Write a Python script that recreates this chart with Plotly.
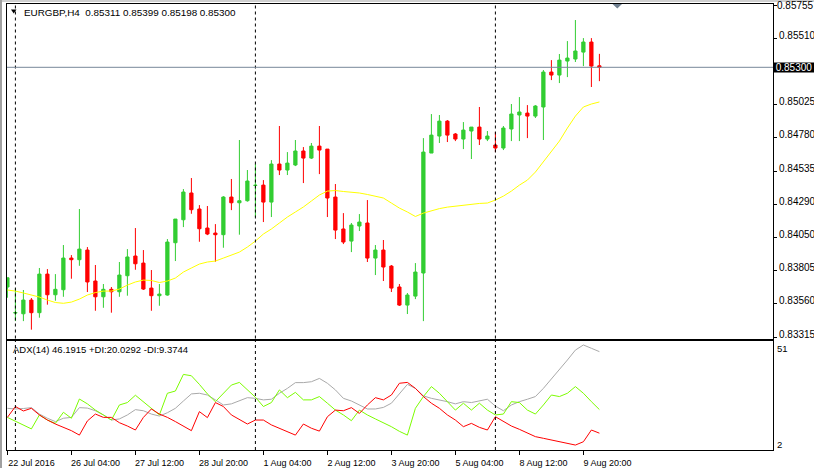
import plotly.graph_objects as go

# ---------------- data (EURGBP H4) ----------------
open_ = [0.83683, 0.83491, 0.83486, 0.83587, 0.83494, 0.83778, 0.83626, 0.83663, 0.83896, 0.83884,
         0.83955, 0.83727, 0.83611, 0.83666, 0.83648, 0.83766, 0.83911, 0.83859, 0.83675, 0.83619,
         0.83624, 0.84009, 0.84178, 0.84375, 0.84257, 0.84117, 0.84080, 0.84068, 0.84345, 0.84303,
         0.84318, 0.84430, 0.84433, 0.84308, 0.84588, 0.84544, 0.84581, 0.84684, 0.84632, 0.84720,
         0.84698, 0.84345, 0.84110, 0.84021, 0.84132, 0.84154, 0.83896, 0.83955, 0.83837, 0.83683,
         0.83550, 0.83616, 0.83786, 0.84669, 0.84794, 0.84904, 0.84809, 0.84772, 0.84831, 0.84860,
         0.84772, 0.84728, 0.84706, 0.84846, 0.84949, 0.84963, 0.84941, 0.85008, 0.85265, 0.85243,
         0.85346, 0.85361, 0.85412, 0.85486, 0.85311]
high = [0.83751, 0.83673, 0.83661, 0.83602, 0.83823, 0.83815, 0.83778, 0.83992, 0.83918, 0.84257,
        0.83977, 0.83845, 0.83705, 0.83683, 0.83867, 0.83962, 0.84117, 0.83955, 0.83808, 0.83705,
        0.84036, 0.84183, 0.84404, 0.84485, 0.84286, 0.84279, 0.84146, 0.84352, 0.84478, 0.84765,
        0.84544, 0.84588, 0.84470, 0.84617, 0.84868, 0.84676, 0.84765, 0.84713, 0.84743, 0.84868,
        0.84698, 0.84441, 0.84227, 0.84154, 0.84220, 0.84323, 0.83992, 0.84029, 0.83845, 0.83705,
        0.83639, 0.83859, 0.84779, 0.84956, 0.84949, 0.84912, 0.84816, 0.84897, 0.84860, 0.85008,
        0.84831, 0.84824, 0.84868, 0.85030, 0.85081, 0.85022, 0.85022, 0.85280, 0.85353, 0.85398,
        0.85493, 0.85648, 0.85515, 0.85515, 0.85399]
low = [0.83604, 0.83432, 0.83432, 0.83369, 0.83457, 0.83553, 0.83582, 0.83611, 0.83744, 0.83839,
       0.83646, 0.83508, 0.83530, 0.83494, 0.83611, 0.83619, 0.83810, 0.83661, 0.83508, 0.83545,
       0.83619, 0.83874, 0.84124, 0.84222, 0.84016, 0.84065, 0.83869, 0.83972, 0.84249, 0.84068,
       0.84311, 0.84200, 0.84161, 0.84198, 0.84507, 0.84507, 0.84573, 0.84448, 0.84625, 0.84514,
       0.84198, 0.84036, 0.83999, 0.83940, 0.84095, 0.83867, 0.83771, 0.83727, 0.83646, 0.83543,
       0.83484, 0.83594, 0.83432, 0.84669, 0.84743, 0.84750, 0.84757, 0.84698, 0.84625, 0.84728,
       0.84757, 0.84676, 0.84691, 0.84757, 0.84757, 0.84779, 0.84927, 0.84765, 0.85206, 0.85184,
       0.85228, 0.85339, 0.85309, 0.85155, 0.85198]
close = [0.83751, 0.83495, 0.83587, 0.83494, 0.83778, 0.83626, 0.83666, 0.83896, 0.83884, 0.83962,
         0.83720, 0.83611, 0.83666, 0.83648, 0.83771, 0.83904, 0.83854, 0.83668, 0.83619, 0.83631,
         0.84014, 0.84183, 0.84382, 0.84252, 0.84112, 0.84073, 0.84068, 0.84345, 0.84303, 0.84318,
         0.84463, 0.84432, 0.84308, 0.84588, 0.84544, 0.84595, 0.84684, 0.84632, 0.84720, 0.84691,
         0.84338, 0.84102, 0.84014, 0.84139, 0.84161, 0.83896, 0.83955, 0.83830, 0.83675, 0.83550,
         0.83624, 0.83793, 0.84676, 0.84801, 0.84904, 0.84801, 0.84772, 0.84838, 0.84860, 0.84772,
         0.84794, 0.84706, 0.84853, 0.84956, 0.84971, 0.84941, 0.85015, 0.85265, 0.85243, 0.85353,
         0.85368, 0.85420, 0.85486, 0.85309, 0.85300]
ma = [0.83661, 0.83653, 0.83639, 0.83624, 0.83609, 0.83587, 0.83569, 0.83563, 0.83572, 0.83594,
      0.83624, 0.83642, 0.83653, 0.83653, 0.83668, 0.83697, 0.83720, 0.83734, 0.83731, 0.83716,
      0.83727, 0.83749, 0.83793, 0.83823, 0.83852, 0.83867, 0.83874, 0.83896, 0.83918, 0.83940,
      0.83977, 0.84021, 0.84073, 0.84110, 0.84154, 0.84198, 0.84235, 0.84272, 0.84316, 0.84360,
      0.84389, 0.84393, 0.84386, 0.84382, 0.84375, 0.84364, 0.84352, 0.84338, 0.84301, 0.84264,
      0.84235, 0.84202, 0.84227, 0.84246, 0.84260, 0.84271, 0.84279, 0.84286, 0.84294, 0.84298,
      0.84301, 0.84323, 0.84352, 0.84389, 0.84433, 0.84470, 0.84529, 0.84603, 0.84676, 0.84757,
      0.84853, 0.84941, 0.85008, 0.85030, 0.85045]
adx = [20.6, 20.3, 20.5, 20.9, 18.0, 16.1, 14.6, 16.1, 16.5, 20.9,
       20.7, 19.5, 17.6, 15.3, 15.8, 17.6, 20.0, 19.5, 18.0, 17.1,
       18.6, 20.6, 23.9, 27.1, 27.4, 26.6, 24.4, 22.1, 22.6, 23.9,
       25.4, 25.1, 24.4, 24.7, 27.4, 29.6, 32.2, 32.2, 32.6, 34.1,
       31.9, 28.9, 25.1, 23.9, 22.1, 20.3, 20.3, 21.0, 22.9, 27.4,
       31.4, 29.6, 26.2, 25.1, 24.4, 23.6, 22.6, 23.6, 23.2, 24.1,
       24.7, 21.6, 19.5, 22.1, 23.6, 24.7, 25.9, 29.6, 33.7, 37.9,
       42.4, 46.9, 49.2, 47.7, 46.1915]
plus_di = [16.5, 14.7, 13.1, 11.3, 17.6, 15.3, 13.8, 18.8, 16.1, 24.8,
           22.6, 19.8, 17.6, 15.3, 22.1, 23.2, 26.5, 23.6, 20.6, 17.6,
           27.4, 28.4, 35.9, 35.3, 31.4, 27.1, 23.6, 27.4, 31.1, 32.3,
           28.9, 25.6, 21.4, 23.2, 28.9, 25.4, 27.8, 24.4, 24.4, 25.9,
           22.9, 19.8, 17.6, 15.0, 19.8, 17.6, 15.8, 14.1, 12.3, 10.2,
           8.5, 20.6, 25.9, 30.4, 27.4, 23.6, 19.8, 22.9, 19.8, 22.9,
           19.8, 17.6, 18.0, 23.6, 23.2, 19.8, 18.0, 22.1, 26.6, 25.9,
           27.4, 30.4, 27.4, 23.6, 20.0292]
minus_di = [16.5, 21.4, 19.4, 20.6, 17.6, 15.3, 13.5, 12.0, 10.5, 8.5,
            14.9, 18.0, 16.5, 16.5, 14.1, 12.6, 10.8, 16.5, 20.3, 18.0,
            16.5, 14.6, 12.6, 10.5, 19.1, 16.4, 23.2, 21.4, 17.6, 15.6,
            13.5, 15.3, 15.3, 13.1, 11.6, 10.1, 8.5, 13.5, 11.6, 10.3,
            16.8, 19.8, 19.5, 20.9, 18.3, 22.1, 25.4, 24.4, 26.6, 31.9,
            32.3, 29.6, 25.9, 22.9, 20.6, 17.6, 15.3, 12.3, 13.8, 12.0,
            10.8, 16.8, 14.6, 12.6, 11.1, 9.3, 7.8, 7.05, 6.3, 5.5,
            4.8, 4.0, 5.5, 10.8, 9.3744]

time_idx = [0, 8, 16, 24, 32, 40, 48, 56, 64, 72]
time_lbl = ["22 Jul 2016", "26 Jul 04:00", "27 Jul 12:00", "28 Jul 20:00", "1 Aug 04:00",
            "2 Aug 12:00", "3 Aug 20:00", "5 Aug 04:00", "8 Aug 12:00", "9 Aug 20:00"]
price_ticks = [0.85755, 0.85510, 0.85270, 0.85025, 0.84780, 0.84535, 0.84290,
               0.84050, 0.83805, 0.83560, 0.83315]
top_tick = price_ticks[0]          # drawn as a label pinned to the top edge (as in MT4)
hidden_tick = price_ticks[2]       # hidden behind the bid-price box
price_tick_text = ["" if v in (top_tick, hidden_tick) else "%.5f" % v for v in price_ticks]
week_starts = [1, 31, 61]
symbol_title = "EURGBP,H4"
adx_title = "ADX(14) 46.1915 +DI:20.0292 -DI:9.3744"
adx_scale = [51, 2]

# ---------------- layout helpers ----------------
FONT = "Liberation Sans, Arial, sans-serif"
W, H = 814, 468
L, R, T, B = 7, 41, 4, 18
PW, PH = W - L - R, H - T - B


def fx(p):
    return (p - L) / PW


def fy(p):
    return (H - B - p) / PH


x = list(range(len(close)))
last_price = close[-1]
xr = [-0.05, 95.7]

fig = go.Figure()
fig.add_trace(go.Candlestick(
    x=x, open=open_, high=high, low=low, close=close,
    increasing=dict(line=dict(color="#32CD32", width=1), fillcolor="#32CD32"),
    decreasing=dict(line=dict(color="#FF0000", width=1), fillcolor="#FF0000"),
    whiskerwidth=0, hoverinfo="skip", xaxis="x", yaxis="y", showlegend=False))
fig.add_trace(go.Scatter(x=x, y=ma, mode="lines", line=dict(color="#FFFF00", width=1),
                         xaxis="x", yaxis="y", hoverinfo="skip"))
fig.add_trace(go.Scatter(x=x, y=adx, mode="lines", line=dict(color="#A9A9A9", width=1),
                         xaxis="x2", yaxis="y2", hoverinfo="skip"))
fig.add_trace(go.Scatter(x=x, y=plus_di, mode="lines", line=dict(color="#7CFC00", width=1),
                         xaxis="x2", yaxis="y2", hoverinfo="skip"))
fig.add_trace(go.Scatter(x=x, y=minus_di, mode="lines", line=dict(color="#FF0000", width=1),
                         xaxis="x2", yaxis="y2", hoverinfo="skip"))

axis_common = dict(showgrid=False, zeroline=False, showline=True, mirror=True,
                   linecolor="black", linewidth=1, fixedrange=True, automargin=False)

shapes = []
for w in week_starts:
    shapes.append(dict(type="line", xref="x", yref="y domain", x0=w, x1=w, y0=0, y1=1,
                       line=dict(color="black", width=1, dash="3px,3px")))
    shapes.append(dict(type="line", xref="x2", yref="y2 domain", x0=w, x1=w, y0=0, y1=1,
                       line=dict(color="black", width=1, dash="3px,3px")))
shapes.append(dict(type="line", xref="x domain", yref="y", x0=0, x1=1,
                   y0=last_price, y1=last_price, line=dict(color="#778899", width=1)))
# chart-shift marker
shapes.append(dict(type="path", xref="paper", yref="paper",
                   path="M %f %f L %f %f L %f %f Z" % (fx(612.5), fy(4), fx(622), fy(4), fx(617.3), fy(8.5)),
                   fillcolor="#708090", line=dict(width=0)))
# small header triangle
shapes.append(dict(type="path", xref="paper", yref="paper",
                   path="M %f %f L %f %f L %f %f Z" % (fx(11), fy(9.5), fx(16.5), fy(9.5), fx(13.7), fy(13.5)),
                   fillcolor="black", line=dict(width=0)))
# window edges
shapes.append(dict(type="line", xref="paper", yref="paper", x0=fx(1), x1=fx(1), y0=fy(H), y1=fy(0),
                   line=dict(color="#A0A0A0", width=2)))
shapes.append(dict(type="line", xref="paper", yref="paper", x0=fx(0), x1=fx(W), y0=fy(1), y1=fy(1),
                   line=dict(color="#A0A0A0", width=1)))

annotations = [
    dict(xref="paper", yref="paper", x=fx(21.5), y=fy(12), xanchor="left", yanchor="middle",
         text=symbol_title + "\u00a0\u00a0" + " ".join("%.5f" % v for v in
                                                  [open_[-1], high[-1], low[-1], close[-1]]),
         showarrow=False, font=dict(family=FONT, size=9.9, color="black")),
    dict(xref="paper", yref="paper", x=fx(10.5), y=fy(349), xanchor="left", yanchor="middle",
         text=adx_title, showarrow=False, font=dict(family=FONT, size=9.5, color="black")),
    dict(xref="paper", yref="paper", x=fx(775), y=fy(348.5), xanchor="left", yanchor="middle",
         text=str(adx_scale[0]), showarrow=False, font=dict(family=FONT, size=9.5, color="black")),
    dict(xref="paper", yref="paper", x=fx(775), y=fy(444), xanchor="left", yanchor="middle",
         text=str(adx_scale[1]), showarrow=False, font=dict(family=FONT, size=9.5, color="black")),
    dict(xref="paper", yref="paper", x=fx(775), y=fy(5), xanchor="left", yanchor="middle",
         text="%.5f" % top_tick, showarrow=False, font=dict(family=FONT, size=10, color="black")),
    dict(xref="paper", yref="y", x=1, y=last_price, xanchor="left", yanchor="middle",
         text="%.5f" % last_price, showarrow=False, bgcolor="black", borderpad=0,
         width=40, height=9, font=dict(family=FONT, size=10, color="white")),
]

fig.update_layout(
    width=W, height=H, margin=dict(l=L, r=R, t=T, b=B, pad=0, autoexpand=False),
    paper_bgcolor="white", plot_bgcolor="white", showlegend=False, boxgap=0.42,
    xaxis=dict(domain=[0, 1], anchor="y", range=xr, showticklabels=False, ticks="",
               rangeslider=dict(visible=False), **axis_common),
    yaxis=dict(domain=[fy(338.5), 1], anchor="x", side="right", range=[0.83304, 0.85766],
               tickvals=price_ticks, ticktext=price_tick_text, ticks="outside", ticklen=3,
               tickcolor="black", ticklabelshift=-3,
               tickfont=dict(family=FONT, size=10, color="black"), **axis_common),
    xaxis2=dict(domain=[0, 1], anchor="y2", range=xr, tickvals=time_idx, ticktext=time_lbl,
                ticks="outside", ticklen=4, tickcolor="black", ticklabelshift=24,
                tickfont=dict(family=FONT, size=9, color="black"), **axis_common),
    yaxis2=dict(domain=[0, fy(340.5)], anchor="x2", side="right", range=[1.77, 51.22],
                showticklabels=False, ticks="", **axis_common),
    shapes=shapes, annotations=annotations,
)

fig.write_html("out.html")
